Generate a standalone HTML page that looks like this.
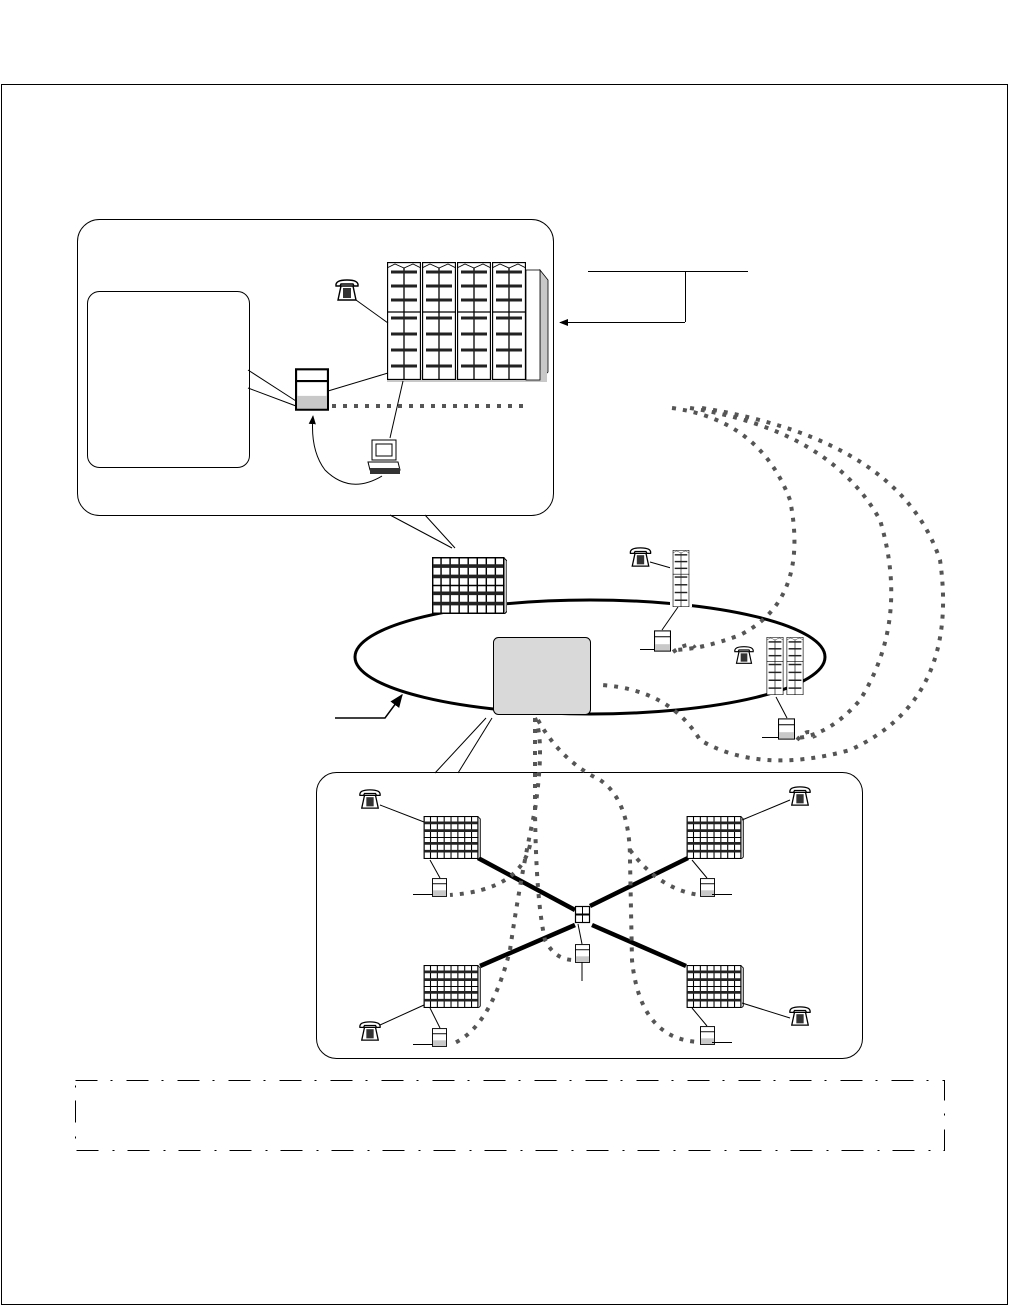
<!DOCTYPE html>
<html><head><meta charset="utf-8"><style>html,body{margin:0;padding:0;background:#fff}svg{display:block}</style></head>
<body>
<svg width="1010" height="1306" viewBox="0 0 1010 1306" xmlns="http://www.w3.org/2000/svg">
<defs>
<symbol id="col" viewBox="0 0 34 118">
<rect x="0.5" y="0.5" width="33" height="117" fill="#fff" stroke="#000" stroke-width="1.3"/>
<path d="M0 6 L8 2 L17 6 L26 2 L34 6" fill="none" stroke="#000" stroke-width="0.8"/>
<line x1="0" y1="50" x2="34" y2="50" stroke="#000" stroke-width="1.3"/>
<line x1="17" y1="6" x2="17" y2="118" stroke="#000" stroke-width="1.3"/>
<g stroke="#222" stroke-width="3">
<line x1="4" y1="10" x2="30" y2="10"/><line x1="4" y1="24" x2="30" y2="24"/><line x1="4" y1="38" x2="30" y2="38"/>
<line x1="4" y1="56" x2="30" y2="56"/><line x1="4" y1="72" x2="30" y2="72"/><line x1="4" y1="88" x2="30" y2="88"/><line x1="4" y1="104" x2="30" y2="104"/>
</g>
</symbol>
<symbol id="grid" viewBox="0 0 58 44">
<rect x="0.5" y="0.5" width="55" height="43" fill="#fff" stroke="#000" stroke-width="1.2"/>
<path d="M56 1 L58 3 L58 42 L56 44" fill="#ccc" stroke="#000" stroke-width="0.8"/>
<g stroke="#000" stroke-width="1.1">
<line x1="14" y1="0" x2="14" y2="44"/><line x1="28" y1="0" x2="28" y2="44"/><line x1="42" y1="0" x2="42" y2="44"/>
<line x1="7" y1="0" x2="7" y2="44"/><line x1="21" y1="0" x2="21" y2="44"/><line x1="35" y1="0" x2="35" y2="44"/><line x1="49" y1="0" x2="49" y2="44"/>
<line x1="0" y1="22" x2="56" y2="22"/>
</g>
<g stroke="#222" stroke-width="2.8">
<line x1="1" y1="7" x2="55" y2="7"/><line x1="1" y1="15" x2="55" y2="15"/><line x1="1" y1="28" x2="55" y2="28"/><line x1="1" y1="36" x2="55" y2="36"/>
</g>
</symbol>
<symbol id="srv" viewBox="0 0 16 20">
<rect x="0.5" y="0.5" width="15" height="19" fill="#fff" stroke="#000"/>
<rect x="1" y="13" width="14" height="6" fill="#c8c8c8"/>
<line x1="0" y1="6" x2="16" y2="6" stroke="#000"/>
</symbol>
<symbol id="ph" viewBox="0 0 26 24">
<path d="M2 8 Q1 2 13 2 Q25 2 24 8 L20 8 L19 6 L7 6 L6 8 Z" fill="#fff" stroke="#000" stroke-width="1.4"/>
<path d="M7 8 L19 8 L22 22 L4 22 Z" fill="#fff" stroke="#000" stroke-width="1.4"/>
<rect x="9" y="10" width="8" height="10" fill="#333"/>
</symbol>
<marker id="ah" viewBox="0 0 10 10" refX="9" refY="5" markerWidth="9" markerHeight="9" orient="auto"><path d="M0 1 L10 5 L0 9 Z" fill="#000"/></marker>
</defs>

<rect x="1.5" y="84.5" width="1006" height="1220" fill="none" stroke="#000"/>

<rect x="77.5" y="219.5" width="476" height="296" rx="22" fill="none" stroke="#000"/>
<rect x="87.5" y="291.5" width="162" height="176" rx="12" fill="none" stroke="#000"/>
<line x1="248" y1="370" x2="296" y2="401" stroke="#000"/>
<line x1="248" y1="388" x2="296" y2="406" stroke="#000"/>

<path d="M390 380 L540 380 L548 372 L548 280 L540 270 L540 380" fill="#c8c8c8" stroke="#000" stroke-width="0.8"/>
<rect x="387" y="370" width="160" height="12" fill="#c8c8c8"/>
<use href="#col" x="387" y="262" width="34" height="118"/>
<use href="#col" x="422" y="262" width="34" height="118"/>
<use href="#col" x="457" y="262" width="34" height="118"/>
<use href="#col" x="492" y="262" width="34" height="118"/>
<rect x="526" y="270" width="14" height="110" fill="#fff" stroke="#000" stroke-width="0.8"/>

<use href="#ph" x="334" y="278" width="26" height="24"/>
<line x1="356" y1="300" x2="388" y2="323" stroke="#000"/>
<use href="#srv" x="295" y="368" width="34" height="43"/>
<line x1="328" y1="391" x2="388" y2="373" stroke="#000"/>
<line x1="403" y1="381" x2="390" y2="438" stroke="#000"/>
<path d="M332 406 L525 406" stroke="#555" stroke-width="4" stroke-dasharray="4 7"/>
<rect x="372" y="440" width="24" height="20" fill="#fff" stroke="#000"/>
<rect x="376" y="444" width="16" height="12" fill="#fff" stroke="#000"/>
<path d="M368 462 L398 462 L400 470 L370 470 Z" fill="#fff" stroke="#000"/>
<rect x="370" y="468" width="30" height="6" fill="#333"/>
<path d="M382 476 Q350 495 325 470 Q310 450 313 416" fill="none" stroke="#000" marker-end="url(#ah)"/>

<line x1="588" y1="271.5" x2="748" y2="271.5" stroke="#000"/>
<line x1="685.5" y1="271" x2="685.5" y2="322" stroke="#000"/>
<line x1="685" y1="322.5" x2="560" y2="322.5" stroke="#000" marker-end="url(#ah)"/>

<line x1="390" y1="515" x2="452" y2="548" stroke="#000"/>
<line x1="425" y1="515" x2="455" y2="548" stroke="#000"/>

<ellipse cx="590" cy="657" rx="235" ry="57" fill="none" stroke="#000" stroke-width="3"/>
<use href="#grid" x="432" y="557" width="75" height="57"/>
<rect x="493.5" y="637.5" width="97" height="77" rx="5" fill="#d9d9d9" stroke="#000"/>
<path d="M335 718 L385 718 L402 695" fill="none" stroke="#000" stroke-width="1.5" marker-end="url(#ah)"/>
<line x1="486" y1="718" x2="435" y2="773" stroke="#000"/>
<line x1="492" y1="718" x2="458" y2="773" stroke="#000"/>

<use href="#ph" x="628" y="546" width="25" height="22"/>
<line x1="650" y1="562" x2="671" y2="568" stroke="#000"/>
<rect x="670" y="550" width="22" height="57" fill="#fff"/>
<use href="#col" x="670" y="550" width="22" height="57"/>
<line x1="678" y1="607" x2="662" y2="630" stroke="#000"/>
<use href="#srv" x="654" y="630" width="17" height="22"/>
<line x1="640" y1="649.5" x2="654" y2="649.5" stroke="#000"/>

<use href="#ph" x="733" y="645" width="22" height="20"/>
<use href="#col" x="765" y="637" width="20" height="58"/>
<use href="#col" x="785" y="637" width="20" height="58"/>
<line x1="776" y1="697" x2="787" y2="718" stroke="#000"/>
<use href="#srv" x="778" y="718" width="17" height="22"/>
<line x1="762" y1="737.5" x2="779" y2="737.5" stroke="#000"/>

<g fill="none" stroke="#555" stroke-width="4" stroke-dasharray="4 7">
<path d="M672 408 Q760 420 790 500 Q810 600 740 635 Q700 650 672 650"/>
<path d="M690 408 Q830 430 880 520 Q910 620 860 700 Q830 735 797 738"/>
<path d="M702 408 Q900 440 940 560 Q960 700 850 750 Q760 775 700 740 Q670 690 602 685"/>
<path d="M673 652 Q690 640 695 648"/>
<path d="M797 740 Q810 725 815 738"/>
</g>

<rect x="316.5" y="772.5" width="546" height="286" rx="20" fill="none" stroke="#000"/>
<g stroke="#000" stroke-width="4.5">
<line x1="478" y1="858" x2="575" y2="910"/>
<line x1="688" y1="858" x2="590" y2="906"/>
<line x1="480" y1="966" x2="575" y2="925"/>
<line x1="686" y1="966" x2="592" y2="925"/>
</g>
<use href="#grid" x="423" y="816" width="58" height="43"/>
<use href="#grid" x="686" y="816" width="58" height="43"/>
<use href="#grid" x="423" y="965" width="58" height="43"/>
<use href="#grid" x="686" y="965" width="58" height="43"/>
<rect x="575.5" y="906.5" width="14" height="16" fill="#fff" stroke="#000" stroke-width="1.2"/>
<line x1="582.5" y1="906" x2="582.5" y2="923" stroke="#000"/>
<line x1="575" y1="914.5" x2="590" y2="914.5" stroke="#000" stroke-width="2"/>

<use href="#ph" x="358" y="788" width="24" height="22"/>
<line x1="380" y1="805" x2="424" y2="822" stroke="#000"/>
<use href="#ph" x="788" y="785" width="24" height="22"/>
<line x1="790" y1="800" x2="742" y2="820" stroke="#000"/>
<use href="#ph" x="358" y="1020" width="24" height="22"/>
<line x1="380" y1="1025" x2="424" y2="1005" stroke="#000"/>
<use href="#ph" x="788" y="1005" width="24" height="22"/>
<line x1="790" y1="1018" x2="742" y2="1003" stroke="#000"/>

<use href="#srv" x="432" y="878" width="15" height="19"/>
<line x1="430" y1="860" x2="440" y2="878" stroke="#000"/>
<line x1="413" y1="894.5" x2="433" y2="894.5" stroke="#000"/>
<use href="#srv" x="700" y="878" width="15" height="19"/>
<line x1="692" y1="860" x2="707" y2="878" stroke="#000"/>
<line x1="712" y1="894.5" x2="732" y2="894.5" stroke="#000"/>
<use href="#srv" x="575" y="944" width="15" height="19"/>
<line x1="578" y1="924" x2="582" y2="944" stroke="#000"/>
<line x1="582" y1="962" x2="582" y2="981" stroke="#000"/>
<use href="#srv" x="432" y="1028" width="15" height="19"/>
<line x1="430" y1="1008" x2="440" y2="1028" stroke="#000"/>
<line x1="413" y1="1044.5" x2="433" y2="1044.5" stroke="#000"/>
<use href="#srv" x="700" y="1026" width="15" height="19"/>
<line x1="692" y1="1008" x2="707" y2="1026" stroke="#000"/>
<line x1="712" y1="1042.5" x2="732" y2="1042.5" stroke="#000"/>

<g fill="none" stroke="#555" stroke-width="4" stroke-dasharray="4 7">
<path d="M535 718 L535 810 Q536 900 545 940 Q555 960 574 960"/>
<path d="M535 718 Q545 740 535 810 Q520 880 510 950 Q490 1030 450 1045"/>
<path d="M538 720 Q560 760 600 780 Q630 800 630 860 L632 960 Q640 1040 700 1042"/>
<path d="M530 845 Q520 890 450 895"/>
<path d="M630 850 Q660 890 700 895"/>
</g>

<rect x="75.5" y="1080.5" width="869" height="70" fill="none" stroke="#000" stroke-dasharray="22 13 2 14"/>
</svg>
</body></html>
